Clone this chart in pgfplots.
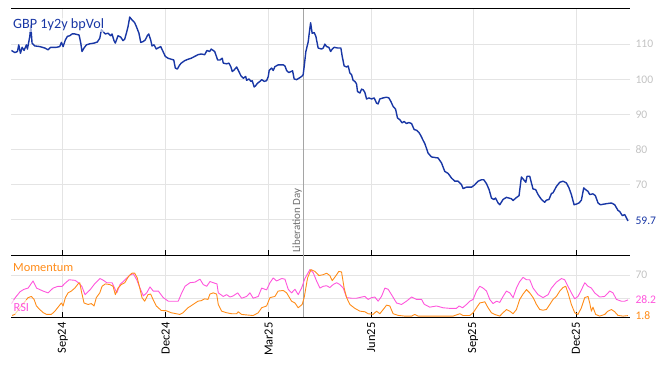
\documentclass[border=0pt]{standalone}
\usepackage{pgfplots}
\pgfplotsset{compat=1.18}
\usepackage{fontspec}
\setmainfont{Carlito}
\definecolor{volblue}{RGB}{25,55,165}
\definecolor{momorange}{RGB}{255,140,25}
\definecolor{rsipink}{RGB}{255,85,220}
\definecolor{gridgray}{RGB}{228,228,228}
\definecolor{ticklabgray}{RGB}{195,195,195}
\definecolor{libgray}{RGB}{165,165,165}
\definecolor{libtext}{RGB}{110,110,110}
\newcommand{\bigf}{\fontsize{12.4}{14}\selectfont}
\newcommand{\titlef}{\fontsize{14.2}{16}\selectfont}
\newcommand{\tickf}{\fontsize{11.6}{13}\selectfont}
\newcommand{\smallf}{\fontsize{11}{13}\selectfont}
\pgfplotsset{
  common/.style={
    scale only axis, width=619pt,
    xmin=-46, xmax=504,
    separate axis lines,
    x axis line style={black, line width=1pt},
    y axis line style={draw=none},
    xtick={0,91.5,183,274,364.6,456},
    xtick pos=bottom, tick align=inside,
    major tick length=5pt,
    xtick style={black, line width=0.9pt},
    ytick style={draw=none},
    grid=major, grid style={gridgray, line width=0.8pt},
    yticklabel pos=right,
    yticklabel style={font=\tickf, color=ticklabgray, anchor=west, xshift=2pt},
    clip=true,
  }
}
\begin{document}
\begin{tikzpicture}
\useasboundingbox (0pt,0pt) rectangle (668pt,-366pt);
% ---------------- top panel ----------------
\begin{axis}[common, at={(11pt,-9pt)}, anchor=north west, height=246pt,
  ymin=50, ymax=120,
  xticklabels={,,,,,},
  ytick={60,70,80,90,100,110},
  yticklabels={,70,80,90,100,110},
  extra y ticks={59.7},
  extra y tick labels={\textcolor{volblue}{59.7}},
  extra y tick style={grid=none, major tick length=0pt},
]
\addplot[libgray, line width=0.8pt] coordinates {(213.6,50) (213.6,120)};
\addplot[volblue, line width=1.4pt, line join=round] coordinates {
(-45.6,108.2) (-42.6,107.6) (-40.3,107.9) (-39.1,109.8) (-37.6,107.4) (-36.1,109.1) (-34.4,108.2) (-32.3,109.8) (-31.4,108.6) (-29.3,112.2) (-28.4,115.2) (-27.3,110.3) (-24.9,109.5) (-20.4,109.3) (-16.0,108.9) (-13.1,108.4) (-10.7,109.1) (-5.7,109.1) (-2.7,109.3) (-1.2,110.5) (0.3,109.3) (2.3,111.2) (4.1,112.2) (6.2,112.4) (8.3,112.9) (10.7,112.9) (14.5,112.6) (16.0,110.3) (17.1,107.9) (18.9,108.9) (21.0,109.8) (24.0,110.1) (27.8,110.3) (30.7,110.6) (32.9,111.7) (34.3,114.1) (35.8,113.6) (37.8,112.9) (40.2,113.1) (42.6,112.4) (43.8,112.9) (45.5,111.0) (46.7,110.3) (49.1,112.4) (51.5,112.0) (53.5,111.0) (55.0,111.4) (56.5,113.1) (58.0,115.0) (59.5,117.7) (61.5,116.9) (63.9,116.1) (65.4,115.0) (67.7,113.1) (69.3,110.5) (71.3,110.7) (73.3,111.2) (75.1,112.4) (76.4,112.9) (78.1,111.2) (79.3,109.5) (81.1,109.8) (83.1,108.6) (84.6,108.9) (87.0,109.3) (89.1,107.9) (91.1,106.5) (93.5,106.0) (96.4,105.7) (98.6,105.5) (100.0,103.2) (101.8,102.9) (103.9,104.1) (105.3,104.6) (108.3,105.3) (111.3,105.7) (114.2,106.0) (117.2,106.5) (120.1,107.0) (123.1,107.2) (126.1,107.0) (128.1,108.2) (130.5,107.9) (131.9,108.6) (135.0,107.9) (137.6,105.5) (139.7,105.5) (141.7,106.0) (142.6,104.6) (145.6,104.4) (147.7,104.6) (149.4,103.5) (150.6,102.2) (152.4,102.7) (154.5,103.5) (156.5,102.2) (158.3,101.0) (160.4,100.3) (162.5,100.8) (163.4,99.7) (165.4,100.1) (167.2,99.4) (168.3,99.6) (170.1,97.8) (171.4,98.2) (173.1,98.9) (175.2,99.4) (176.7,99.9) (179.0,99.4) (181.1,99.6) (182.6,100.8) (183.4,102.5) (185.6,103.2) (187.0,102.5) (188.5,103.6) (191.4,104.1) (195.9,104.1) (197.4,103.8) (198.9,102.5) (200.9,101.9) (202.7,102.2) (204.2,102.4) (205.6,100.1) (207.8,99.9) (209.8,100.3) (212.2,100.8) (213.6,101.3) (214.5,103.6) (216.0,107.9) (218.1,110.7) (219.0,113.1) (220.2,116.1) (221.6,113.1) (223.4,113.3) (224.9,112.2) (226.9,108.9) (230.0,108.6) (231.4,108.9) (232.9,110.0) (234.4,109.3) (236.4,109.1) (238.0,107.9) (239.4,108.6) (241.2,109.1) (244.2,108.9) (247.1,108.9) (248.3,106.5) (250.0,103.8) (252.2,103.5) (253.6,103.8) (255.1,101.8) (256.6,101.3) (258.0,99.7) (259.5,99.4) (261.0,98.7) (261.9,96.5) (264.0,96.1) (265.5,97.2) (266.9,97.0) (268.4,96.3) (269.9,94.4) (272.0,94.7) (274.4,94.4) (276.7,94.7) (278.8,93.2) (280.2,93.0) (281.7,94.4) (284.7,94.7) (287.7,94.9) (289.7,94.7) (291.5,93.7) (293.5,92.3) (295.7,91.5) (297.4,89.0) (299.5,88.5) (301.5,87.6) (303.3,88.0) (305.4,87.4) (307.5,87.7) (309.9,87.4) (312.2,85.7) (314.3,85.5) (316.4,84.9) (318.1,84.0) (320.2,82.6) (321.7,81.7) (324.6,79.0) (327.6,77.9) (333.5,77.6) (336.5,76.2) (339.4,73.8) (342.4,73.2) (345.4,71.9) (348.3,71.0) (351.3,71.0) (354.3,70.0) (355.7,68.9) (358.7,69.3) (363.2,69.3) (366.1,70.0) (369.0,71.0) (372.0,71.4) (374.1,71.4) (376.5,70.3) (378.8,68.6) (380.9,66.2) (383.0,65.8) (384.5,66.2) (386.8,64.8) (388.3,64.3) (391.2,65.8) (394.2,66.4) (398.7,66.0) (400.1,65.5) (402.5,66.2) (405.4,66.9) (407.5,72.2) (409.6,71.4) (411.4,70.7) (412.5,72.4) (414.9,72.4) (417.8,68.8) (420.2,68.6) (422.3,67.2) (425.3,65.8) (428.2,65.0) (429.7,65.6) (432.0,65.8) (434.2,67.5) (435.6,67.7) (438.6,69.5) (441.6,70.7) (444.5,71.0) (447.5,70.5) (449.8,69.1) (451.9,67.2) (454.3,64.3) (456.4,64.5) (458.7,64.8) (460.8,65.6) (462.9,69.1) (464.6,68.6) (466.7,68.1) (468.2,67.2) (471.1,67.4) (473.2,66.9) (475.6,64.8) (477.7,64.3) (483.0,64.6) (487.5,64.8) (490.4,64.3) (493.3,62.7) (494.8,62.4) (497.2,61.2) (499.3,61.5) (500.8,60.6) (502.2,59.7)
};
\node[rotate=90, anchor=south west, inner sep=1pt, text=libtext, font=\smallf, xshift=-8pt]
  at (axis cs:213.6,52.6) {Liberation Day};
\node[anchor=base west, inner sep=1pt, fill=white, fill opacity=0.6, text opacity=1,
  text=volblue, font=\titlef] at ([xshift=1pt,yshift=-20pt]rel axis cs:0,1) {GBP 1y2y bpVol};
\end{axis}
% ---------------- lower panel ----------------
\begin{axis}[common, at={(11pt,-255pt)}, anchor=north west, height=62pt,
  ymin=-0.5, ymax=103.5,
  xticklabels={Sep24,Dec24,Mar25,Jun25,Sep25,Dec25},
  xticklabel style={yshift=-2pt, rotate=90, anchor=east, font=\bigf, text=black},
  ytick={30,70},
  yticklabels={,70},
  extra y ticks={28.2,1.8},
  extra y tick labels={\textcolor{rsipink}{28.2},\textcolor{momorange}{1.8}},
  extra y tick style={grid=none, major tick length=0pt},
]
\addplot[libgray, line width=0.8pt] coordinates {(213.6,-0.5) (213.6,103.5)};
\addplot[rsipink, line width=0.9pt, line join=round] coordinates {
(-45.5,22) (-42.6,31) (-37.9,42) (-34.4,46) (-30.8,48) (-26.4,60) (-23.3,48) (-17.5,43) (-13.1,40) (-8.6,48) (-4.2,51) (-0.6,51) (2.0,56) (5.6,62) (10.9,61) (13.9,57) (16.9,51) (19.8,37) (24.2,45) (28.7,56) (33.1,64) (36.1,61) (39.1,57) (43.8,57) (48.0,40) (50.9,54) (55.3,62) (59.8,70) (62.7,72) (65.7,62) (68.6,48) (71.6,35) (74.6,40) (77.5,50) (80.4,43) (84.9,43) (89.3,32) (93.8,26) (98.2,26) (102.6,26) (105.7,40) (108.6,51) (113.0,57) (117.5,58) (121.9,63) (124.8,54) (127.9,51) (130.8,59) (133.7,57) (137.0,55) (138.2,40) (142.6,34) (145.6,37) (148.6,33) (151.5,35) (155.4,40) (158.9,31) (163.4,34) (166.3,40) (169.2,31) (173.7,34) (176.7,48) (181.1,45) (184.1,57) (187.0,65) (190.0,60) (194.5,64) (197.4,63) (200.3,46) (203.3,40) (206.3,46) (209.2,37) (212.2,48) (215.1,64) (219.6,79) (222.5,74) (225.5,60) (228.5,48) (231.4,51) (234.4,52) (237.3,49) (240.3,54) (243.3,57) (246.2,54) (249.2,48) (252.2,32) (256.6,31) (261.1,31) (265.5,33) (268.4,34) (271.3,29) (274.4,32) (277.3,33) (280.2,26) (283.2,34) (286.2,48) (289.1,46) (292.1,37) (296.6,23) (301.0,20.5) (305.4,26) (309.9,33) (314.3,29) (318.8,29) (321.1,21) (326.1,16) (332.1,18) (337.9,15) (343.9,14) (349.8,14) (352.1,18) (355.2,15) (358.7,20.5) (361.6,26) (364.6,29) (367.6,43) (370.5,51) (373.5,48) (376.5,43) (379.4,29) (382.3,22) (385.4,26) (388.3,24) (391.2,34) (394.2,43) (397.2,40) (400.1,32) (403.1,48) (406.0,59) (409.0,66) (412.0,62) (414.9,62) (417.9,48) (422.3,37) (426.7,32) (431.2,37) (434.2,48) (438.6,58) (443.1,64) (446.0,62) (448.9,51) (451.9,40) (454.9,30) (457.8,34) (460.8,45) (463.8,57) (466.7,51) (469.7,48) (472.6,40) (477.1,33) (481.5,34) (486.0,43) (488.9,40) (491.9,29) (496.3,26) (499.3,26) (502.2,28.2)
};
\addplot[momorange, line width=0.9pt, line join=round] coordinates {
(-45.0,2) (-42.6,4) (-36.8,18) (-30.8,32) (-27.9,34) (-25.5,29) (-23.4,18) (-20.4,12) (-17.5,7) (-14.6,4) (-10.1,4) (-7.1,9) (-4.2,16) (-1.2,23) (0.3,18) (2.3,32) (4.7,40) (7.6,43) (10.7,48) (13.6,55) (15.1,57) (16.5,43) (18.9,23) (22.5,20.5) (25.4,22) (27.8,18) (29.8,32) (32.9,40) (34.9,51) (37.8,55) (41.7,54) (44.7,51) (46.7,37) (49.1,48) (52.0,54) (55.1,57) (58.6,68) (61.5,73) (63.9,73) (66.2,65) (68.4,48) (70.4,32) (72.8,26) (75.7,37) (78.1,38) (80.2,29) (83.1,18) (87.5,10.5) (92.0,10) (96.4,6.6) (100.9,5) (103.9,3.8) (106.8,6.6) (111.3,15) (115.7,20.5) (120.1,26) (123.1,27) (126.1,30) (129.0,29) (130.8,38) (133.7,40) (136.7,38) (138.2,20.5) (141.2,9.3) (145.6,6.6) (150.1,5) (154.5,5) (155.9,8.3) (158.9,3.8) (164.8,2.7) (169.2,2) (173.7,6.6) (176.7,15) (181.1,18) (184.1,32) (188.5,34) (191.4,43) (195.9,44) (198.9,40) (203.3,26) (206.3,23) (209.2,15) (212.7,20.5) (214.5,32) (217.5,65) (220.5,79) (224.0,76) (227.6,69) (231.4,70.5) (234.4,73) (237.3,69) (239.4,60.5) (242.4,68) (245.3,76) (247.7,75) (250.0,48) (252.2,32) (255.1,20.5) (259.5,14) (264.0,9.3) (268.4,8.3) (271.3,5) (275.8,4) (278.8,9.3) (281.7,5) (284.7,12) (287.7,19.4) (290.6,18) (293.5,5) (298.0,2.2) (303.9,1) (309.9,1) (312.8,3.8) (315.7,1) (320.2,1) (346.8,1) (352.8,5) (355.7,2) (361.6,2) (364.6,6.6) (367.6,15) (370.5,23) (375.0,25) (377.9,15) (380.9,6.6) (383.8,3.8) (388.3,1) (391.2,6.6) (394.2,12) (397.2,9.3) (400.1,5) (403.1,12) (406.0,29) (409.0,38) (412.0,45.5) (414.9,40) (417.9,32) (420.9,20.5) (423.8,12) (426.7,11) (429.7,12) (432.7,20.5) (435.6,29) (438.6,34) (441.6,43) (444.5,49) (446.9,51) (448.9,40) (451.9,20.5) (454.9,6.6) (457.8,3.8) (460.8,15) (463.8,32) (466.7,34) (468.2,23) (469.7,9.3) (471.1,16) (473.5,3.8) (477.1,1) (481.5,3.8) (484.4,9.3) (487.5,12) (490.4,8.3) (493.3,2.2) (497.8,1) (502.2,1.8)
};
\node[anchor=base west, inner sep=1pt, fill=white, fill opacity=0.6, text opacity=1,
  text=momorange, font=\bigf] at ([xshift=1pt,yshift=-16.7pt]rel axis cs:0,1) {Momentum};
\node[anchor=base west, inner sep=2.5pt, fill=white, fill opacity=0.65, text opacity=1,
  text=rsipink, font=\bigf] at ([xshift=0pt,yshift=-56pt]rel axis cs:0,1) {RSI};
\end{axis}
\end{tikzpicture}
\end{document}
